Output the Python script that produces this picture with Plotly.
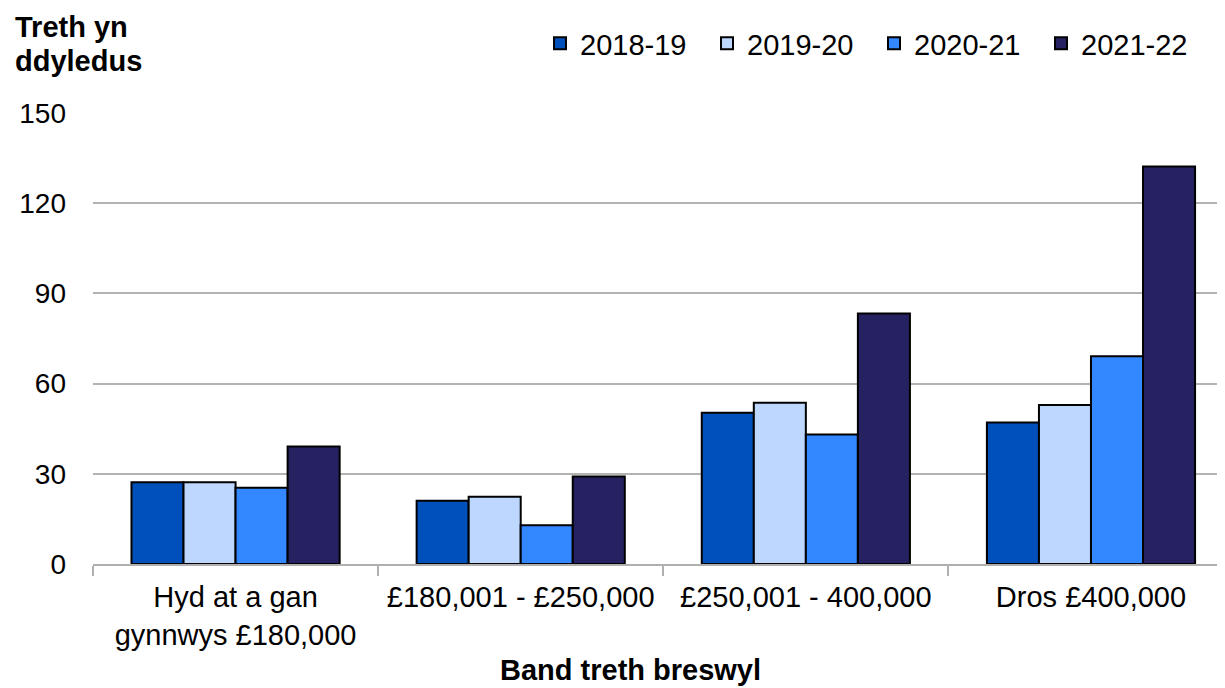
import plotly.graph_objects as go

categories = ["Hyd at a gan<br>gynnwys £180,000", "£180,001 - £250,000", "£250,001 - 400,000", "Dros £400,000"]
series_names = ["2018-19", "2019-20", "2020-21", "2021-22"]
v_2018_19 = [27.2, 21.0, 50.3, 47.1]
v_2019_20 = [27.2, 22.4, 53.6, 52.9]
v_2020_21 = [25.4, 12.9, 43.1, 69.1]
v_2021_22 = [39.1, 29.1, 83.3, 132.2]
series_values = [v_2018_19, v_2019_20, v_2020_21, v_2021_22]
colors = ["#0050BB", "#BDD7FF", "#3388FF", "#262262"]
y_ticks = [0, 30, 60, 90, 120, 150]

FONT = "Liberation Sans, Arial, sans-serif"

fig = go.Figure()
for name, vals, col in zip(series_names, series_values, colors):
    fig.add_trace(go.Bar(
        x=categories, y=vals, name=name,
        marker=dict(color=col, line=dict(color="#000000", width=2)),
    ))

# page body has an 8px margin: figure coords = screen coords - 8
W, H = 1217, 680
L, R, T, B = 85, 0, 105, 124
pw = W - L - R
ph = H - T - B

fig.update_layout(
    width=W, height=H,
    margin=dict(l=L, r=R, t=T, b=B, pad=0, autoexpand=False),
    paper_bgcolor="white", plot_bgcolor="white",
    barmode="group", bargap=0.27, bargroupgap=0,
    font=dict(family=FONT, size=28, color="#000000"),
    showlegend=True,
    legend=dict(
        orientation="h", xref="container", yref="container",
        x=532 / W, xanchor="left",
        y=1 - 10 / H, yanchor="top",
        font=dict(size=29), bgcolor="rgba(0,0,0,0)",
        entrywidth=122, entrywidthmode="pixels",
        itemsizing="constant", traceorder="normal",
    ),
    xaxis=dict(
        type="category", range=[-0.5, 3.47], automargin=False,
        showline=True, linecolor="#B0B0B0", linewidth=2,
        ticks="outside", tickson="boundaries", ticklen=10, tickcolor="#B0B0B0", tickwidth=2,
        tickfont=dict(size=29), showgrid=False, ticklabelstandoff=6,
    ),
    yaxis=dict(
        range=[0, 150], tickvals=y_ticks, showgrid=True, gridcolor="#B3B3B3", gridwidth=2,
        zeroline=False, showline=False, ticks="", tickfont=dict(size=28),
        ticklabelstandoff=26, automargin=False,
    ),
)

for line, yc in (("Treth yn", 19), ("ddyledus", 53)):
    fig.add_annotation(
        text=f"<b>{line}</b>", xref="paper", yref="paper",
        x=(5 - L) / pw, y=1 + (T - yc) / ph, xanchor="left", yanchor="middle",
        showarrow=False, align="left", font=dict(size=29, family=FONT),
    )
fig.add_annotation(
    text="<b>Band treth breswyl</b>", xref="paper", yref="paper",
    x=(622 - L) / pw, y=-(662 - (T + ph)) / ph, xanchor="center", yanchor="middle",
    showarrow=False, font=dict(size=29, family=FONT),
)

fig.write_html("out.html")
